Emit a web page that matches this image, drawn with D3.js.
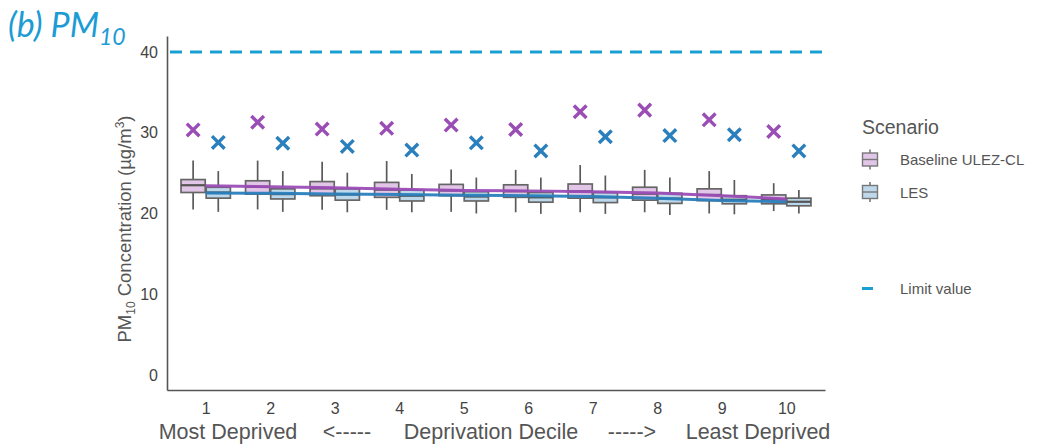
<!DOCTYPE html>
<html><head><meta charset="utf-8">
<script src="https://cdn.jsdelivr.net/npm/d3@7"></script>
<style>
html,body{margin:0;padding:0;background:#fff;}
svg{display:block;font-family:"Liberation Sans",Arial,sans-serif;}
</style></head>
<body>
<svg id="chart" width="1042" height="444"></svg>
<script>
const deciles = [1,2,3,4,5,6,7,8,9,10];
const yTicks = [0,10,20,30,40];
const scenarios = ["Baseline ULEZ-CL","LES"];
// box stats per decile: [lower whisker, q1, median, q3, upper whisker]
const baseLow  = [20.5, 20.5, 20.45, 20.45, 20.2, 20.15, 20.15, 20.15, 20.0, 20.3];
const baseQ1   = [22.6, 22.4, 22.2, 22.0, 22.2, 22.0, 21.9, 21.65, 21.6, 21.2];
const baseMed  = [23.5, 23.3, 23.1, 22.95, 22.85, 22.75, 22.75, 22.45, 22.3, 21.75];
const baseQ3   = [24.2, 24.05, 23.95, 23.85, 23.6, 23.55, 23.65, 23.25, 23.05, 22.3];
const baseHigh = [26.55, 26.55, 26.4, 26.5, 25.45, 25.4, 26.0, 25.4, 25.25, 23.75];
const baseMax  = [30.35, 31.3, 30.45, 30.55, 30.95, 30.4, 32.6, 32.8, 31.6, 30.15];
const baseMean = [23.45, 23.3, 23.2, 23.0, 22.85, 22.8, 22.7, 22.55, 22.2, 21.8];

const lesLow  = [20.2, 20.2, 20.15, 20.15, 20.0, 19.95, 19.95, 19.8, 19.9, 20.0];
const lesQ1   = [21.9, 21.8, 21.65, 21.55, 21.55, 21.4, 21.35, 21.25, 21.2, 20.95];
const lesMed  = [22.6, 22.4, 22.35, 22.2, 22.1, 22.0, 22.0, 21.85, 21.7, 21.45];
const lesQ3   = [23.25, 23.05, 23.05, 22.9, 22.7, 22.6, 22.6, 22.5, 22.2, 21.9];
const lesHigh = [25.25, 25.25, 25.05, 24.9, 24.45, 24.45, 24.7, 24.45, 24.15, 22.9];
const lesMax  = [28.8, 28.7, 28.3, 27.85, 28.75, 27.75, 29.5, 29.65, 29.75, 27.75];
const lesMean = [22.55, 22.5, 22.4, 22.35, 22.25, 22.2, 22.1, 21.9, 21.6, 21.45];

const limitValue = 40;

const boxFill = {"Baseline ULEZ-CL":"#e2c6e7", "LES":"#bcd8ea"};
const markColor = {"Baseline ULEZ-CL":"#9b4db6", "LES":"#2a7fbd"};
const limitColor = "#1a9fd3";

const svg = d3.select("#chart");
const x = d3.scalePoint().domain(deciles).range([167, 825]).padding(0.6);
const y = d3.scaleLinear().domain([-1.86, 41.98]).range([390, 36]);
const step = x.step();
const dodge = step * 0.195;
const bw = step * 0.375;

const series = [
  {name:"Baseline ULEZ-CL", off:-dodge, low:baseLow, q1:baseQ1, med:baseMed, q3:baseQ3, high:baseHigh, max:baseMax, mean:baseMean},
  {name:"LES", off:dodge, low:lesLow, q1:lesQ1, med:lesMed, q3:lesQ3, high:lesHigh, max:lesMax, mean:lesMean}
];

// limit line
svg.append("line")
  .attr("x1", 170).attr("x2", 825)
  .attr("y1", y(limitValue)).attr("y2", y(limitValue))
  .attr("stroke", limitColor).attr("stroke-width", 3)
  .attr("stroke-dasharray", "12,8");

// boxes
series.forEach(s => {
  const g = svg.append("g");
  deciles.forEach((d, i) => {
    const cx = x(d) + s.off;
    g.append("line").attr("x1", cx).attr("x2", cx)
      .attr("y1", y(s.high[i])).attr("y2", y(s.q3[i]))
      .attr("stroke", "#5a5a5a").attr("stroke-width", 1.7);
    g.append("line").attr("x1", cx).attr("x2", cx)
      .attr("y1", y(s.q1[i])).attr("y2", y(s.low[i]))
      .attr("stroke", "#5a5a5a").attr("stroke-width", 1.7);
    g.append("rect").attr("x", cx - bw/2).attr("width", bw)
      .attr("y", y(s.q3[i])).attr("height", y(s.q1[i]) - y(s.q3[i]))
      .attr("fill", boxFill[s.name]).attr("stroke", "#666").attr("stroke-width", 1.7);
    g.append("line").attr("x1", cx - bw/2).attr("x2", cx + bw/2)
      .attr("y1", y(s.med[i])).attr("y2", y(s.med[i]))
      .attr("stroke", "#555").attr("stroke-width", 2.2);
  });
});

// mean lines
const line = d3.line().x((v, i) => x(deciles[i])).y(v => y(v));
[series[1], series[0]].forEach(s => {
  svg.append("path").attr("d", line(s.mean))
    .attr("fill", "none").attr("stroke", markColor[s.name])
    .attr("stroke-width", 3).attr("opacity", 0.95);
});

// max markers (x)
series.forEach(s => {
  deciles.forEach((d, i) => {
    const cx = x(d) + s.off, cy = y(s.max[i]), r = 6.3;
    svg.append("path")
      .attr("d", `M${cx-r},${cy-r}L${cx+r},${cy+r}M${cx-r},${cy+r}L${cx+r},${cy-r}`)
      .attr("stroke", markColor[s.name]).attr("stroke-width", 3.4)
      .attr("stroke-linecap", "butt").attr("fill", "none");
  });
});

// axes
const yAxis = svg.append("g").attr("transform", "translate(167,0)")
  .call(d3.axisLeft(y).tickValues(yTicks).tickSize(0).tickPadding(9));
yAxis.select(".domain").attr("stroke", "#555").attr("stroke-width", 1.6);
yAxis.selectAll("text").attr("font-size", 16).attr("fill", "#444")
  .attr("font-family", "Liberation Sans, Arial, sans-serif");

const xAxis = svg.append("g").attr("transform", "translate(0,390)")
  .call(d3.axisBottom(x).tickSize(0).tickPadding(13));
xAxis.select(".domain").attr("stroke", "#555").attr("stroke-width", 1.6);
xAxis.selectAll("text").attr("font-size", 16).attr("fill", "#444")
  .attr("font-family", "Liberation Sans, Arial, sans-serif");

// bottom title row
const bottomLabels = [
  {t:"Most Deprived", cx:228},
  {t:"<-----", cx:347},
  {t:"Deprivation Decile", cx:491},
  {t:"----->", cx:632},
  {t:"Least Deprived", cx:758}
];
svg.append("g").selectAll("text").data(bottomLabels).join("text")
  .attr("x", d => d.cx).attr("y", 439).attr("text-anchor", "middle")
  .attr("font-size", 21.5).attr("fill", "#555").text(d => d.t);

// y axis title
const yt = svg.append("text")
  .attr("transform", "translate(131,229) rotate(-90)")
  .attr("text-anchor", "middle").attr("font-size", 18.5).attr("fill", "#555");
yt.append("tspan").text("PM");
yt.append("tspan").attr("font-size", 12).attr("dy", 4).text("10");
yt.append("tspan").attr("dy", -4).text(" Concentration (µg/m");
yt.append("tspan").attr("font-size", 12).attr("dy", -7).text("3");
yt.append("tspan").attr("dy", 7).text(")");

// chart title
const tt = svg.append("text").attr("x", 8).attr("y", 37)
  .attr("font-family", "Lato, 'Open Sans', sans-serif").attr("font-style", "italic")
  .attr("font-size", 34).attr("fill", "#1c9bd4");
tt.append("tspan").text("(b) PM");
tt.append("tspan").attr("font-size", 23).attr("dy", 8).text("10");

// legend
const lg = svg.append("g");
lg.append("text").attr("x", 862).attr("y", 134).attr("font-size", 19.5).attr("fill", "#555").text("Scenario");
const legItems = [{name:"Baseline ULEZ-CL", cy:159.5}, {name:"LES", cy:192}];
legItems.forEach(it => {
  const cx = 870;
  lg.append("line").attr("x1", cx).attr("x2", cx).attr("y1", it.cy - 10).attr("y2", it.cy + 10)
    .attr("stroke", "#666").attr("stroke-width", 1.4);
  lg.append("rect").attr("x", cx - 7.5).attr("y", it.cy - 6.5).attr("width", 15).attr("height", 13)
    .attr("fill", boxFill[it.name]).attr("stroke", "#777").attr("stroke-width", 1.4);
  lg.append("line").attr("x1", cx - 7.5).attr("x2", cx + 7.5).attr("y1", it.cy).attr("y2", it.cy)
    .attr("stroke", "#777").attr("stroke-width", 1.4);
  lg.append("text").attr("x", 900).attr("y", it.cy + 5.5).attr("font-size", 15).attr("fill", "#555").text(it.name);
});
lg.append("line").attr("x1", 862).attr("x2", 873).attr("y1", 288.5).attr("y2", 288.5)
  .attr("stroke", limitColor).attr("stroke-width", 3);
lg.append("text").attr("x", 900).attr("y", 293.5).attr("font-size", 15).attr("fill", "#555").text("Limit value");
</script>
</body></html>
